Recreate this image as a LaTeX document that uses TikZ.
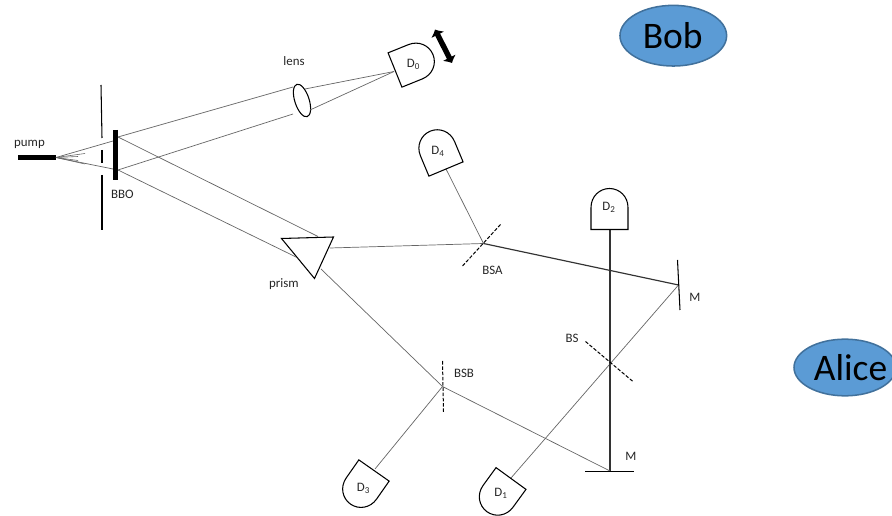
\documentclass[tikz,border=0pt]{standalone}
\usepackage{fontspec}
\setmainfont{Carlito}
\usetikzlibrary{arrows.meta,shapes.geometric}

\definecolor{ovalblue}{HTML}{5B9BD5}
\definecolor{ovaledge}{HTML}{41719C}
\definecolor{raygray}{HTML}{666666}

\tikzset{
  ray/.style={raygray, line width=0.6pt},
  beam/.style={black!80, line width=1pt},
  part/.style={black, line width=0.9pt},
  splitter/.style={black, line width=0.85pt, dash pattern=on 3pt off 1.5pt},
  bar/.style={black, line width=3.9pt},
  lbl/.style={font=\fontsize{11}{13}\selectfont, text=black!85, inner sep=0pt},
  oval/.style={ellipse, draw=ovaledge, line width=1.3pt, fill=ovalblue, inner sep=0pt},
  bigname/.style={font=\fontsize{32}{34}\selectfont, inner sep=0pt}
}

% detector outline, base centre at #1, turned by #2
\newcommand{\detector}[2]{
  \draw[part, rotate around={#2:(#1)}, shift={(#1)}]
    (-18.5,0) -- (-18.5,-22) .. controls (-18.5,-33) and (-10,-41) .. (0,-41)
    .. controls (10,-41) and (18.5,-33) .. (18.5,-22) -- (18.5,0) -- cycle;
}

\begin{document}
\begin{tikzpicture}[x=0.03cm, y=-0.03cm]
  \useasboundingbox (0,0) rectangle (892,516);
  \clip (0,0) rectangle (892,516);

  % Define points
  \coordinate (pumpL) at (18,157.5);
  \coordinate (pumpR) at (56,157.5);
  \coordinate (bboA) at (118,137);
  \coordinate (bboB) at (118,170);
  \coordinate (focus) at (394,71.5);
  \coordinate (BSApt) at (483.5,243.5);
  \coordinate (BSBpt) at (442.5,386.5);
  \coordinate (BSpt) at (610.5,362.5);
  \coordinate (Mright) at (678.5,285);
  \coordinate (Mlow) at (610,471);
  \coordinate (baseD2) at (610,229.5);
  \coordinate (baseD4) at (446,169);
  \coordinate (baseD3) at (375,469);
  \coordinate (baseD1) at (511,478);

  % Ovals
  \node[oval, minimum width=3.2cm, minimum height=1.82cm] (bobOval) at (673.3,35.7) {};
  \node[bigname] (bob) at (672.7,36) {Bob};
  \node[oval, minimum width=3.06cm, minimum height=1.7cm] (aliceOval) at (845,367.5) {};
  \node[bigname] (alice) at (850.5,368) {Alice};

  % Pump and fan
  \draw[bar] (pumpL) -- (pumpR);
  \draw[ray] (pumpR) -- (113,141);
  \draw[ray] (pumpR) -- (113,169);
  \foreach \fanx/\fany in {85/153.5, 78/156.5, 78/160.5, 85/164}
    \draw[ray, line width=0.5pt] (pumpR) -- (\fanx,\fany);

  % Slit and crystal
  \draw[part] (101,85) -- (102,138);
  \draw[part] (102,150) -- (102,163);
  \draw[part] (102,175) -- (102,230);
  \draw[bar] (115.5,130) -- (115.5,180);

  % Lens arm
  \node[ellipse, draw, part, minimum width=0.43cm, minimum height=1.02cm, inner sep=0pt, rotate=18] (lens) at (302,100.5) {};
  \draw[ray] (bboA) -- (293,87);
  \draw[ray] (bboB) -- (293,114);
  \draw[ray] (305,89) -- (focus);
  \draw[ray] (310,110) -- (focus);

  % Prism
  \coordinate (prismA) at (281.5,238.5);
  \coordinate (prismB) at (333.5,237);
  \coordinate (prismC) at (314.5,278.5);
  \draw[part] (prismA) -- (prismB) -- (prismC) -- cycle;
  \draw[ray] (bboA) -- (318,236.5);
  \draw[ray] (bboB) -- (296,257);
  \draw[ray] (330,248) -- (BSApt);
  \draw[ray] (321,269) -- (BSBpt);

  % Rest of the beams
  \draw[ray] (baseD4) -- (BSApt);
  \draw[beam] (BSApt) -- (Mright);
  \draw[ray] (Mright) -- (baseD1);
  \draw[beam] (baseD2) -- (Mlow);
  \draw[ray] (BSBpt) -- (Mlow);
  \draw[ray] (BSBpt) -- (baseD3);

  % Mirrors and splitters
  \draw[part] (677.5,260) -- (680,310);
  \draw[part] (585,471.3) -- (634,471.3);
  \draw[splitter] (500.5,224.5) -- (462.5,266);
  \draw[splitter] (442.5,361) -- (443.5,412);
  \draw[splitter] (585.5,341.5) -- (633.5,382);

  % Detectors
  \detector{395,70}{-68}
  \detector{446,169}{22.7}
  \detector{609.5,229.5}{0}
  \detector{374,470.5}{145}
  \detector{511,478.5}{144}
  \node[lbl] (D0) at (413.5,64.5) {D\textsubscript{0}};
  \node[lbl] (D4) at (438,151) {D\textsubscript{4}};
  \node[lbl] (D2) at (609,207.5) {D\textsubscript{2}};
  \node[lbl] (D3) at (363.5,488.5) {D\textsubscript{3}};
  \node[lbl] (D1) at (501,493) {D\textsubscript{1}};

  % Double arrow on D0
  \coordinate (moveA) at (435,29.5);
  \coordinate (moveB) at (452,63);
  \draw[{Latex[length=5pt,width=13pt]}-{Latex[length=5pt,width=13pt]}, line width=4.6pt] (moveA) -- (moveB);

  % Labels
  \node[lbl] (pumpLbl) at (29.5,144) {pump};
  \node[lbl] (bboLbl) at (122.5,194) {BBO};
  \node[lbl] (lensLbl) at (294,61.5) {lens};
  \node[lbl] (prismLbl) at (284,284) {prism};
  \node[lbl] (bsaLbl) at (492.5,270.5) {BSA};
  \node[lbl] (bsbLbl) at (464,373.5) {BSB};
  \node[lbl] (bsLbl) at (572,338.5) {BS};
  \node[lbl] (mOne) at (695,297) {M};
  \node[lbl] (mTwo) at (631,456.5) {M};
\end{tikzpicture}
\end{document}
